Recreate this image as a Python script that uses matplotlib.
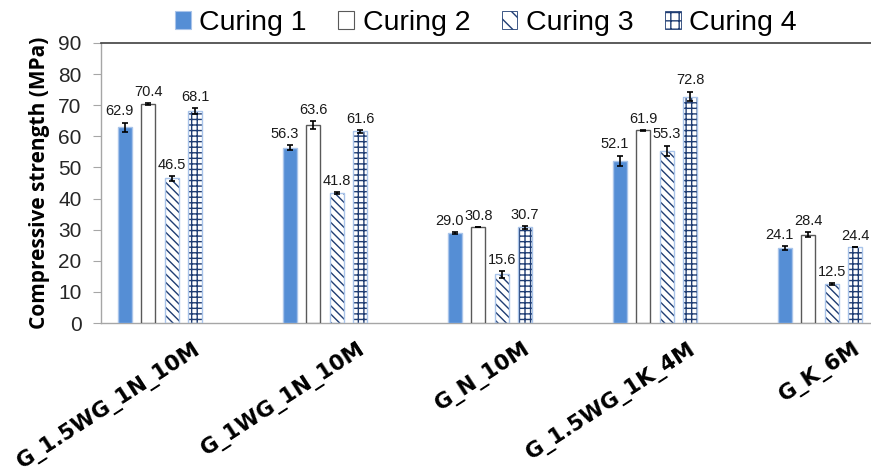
import matplotlib
matplotlib.use("Agg")
import matplotlib.pyplot as plt
from matplotlib.transforms import ScaledTranslation
import numpy as np

categories = ["G_1.5WG_1N_10M", "G_1WG_1N_10M", "G_N_10M", "G_1.5WG_1K_4M", "G_K_6M"]
series_names = ["Curing 1", "Curing 2", "Curing 3", "Curing 4"]
curing1 = [62.9, 56.3, 29.0, 52.1, 24.1]
curing2 = [70.4, 63.6, 30.8, 61.9, 28.4]
curing3 = [46.5, 41.8, 15.6, 55.3, 12.5]
curing4 = [68.1, 61.6, 30.7, 72.8, 24.4]
err1 = [1.5, 0.8, 0.3, 1.7, 0.7]
err2 = [0.3, 1.3, 0.1, 0.1, 0.7]
err3 = [0.8, 0.3, 1.2, 1.7, 0.4]
err4 = [1.0, 0.4, 0.4, 1.6, 0.1]
yticks = [0, 10, 20, 30, 40, 50, 60, 70, 80, 90]

values = [curing1, curing2, curing3, curing4]
errors = [err1, err2, err3, err4]

plt.rcParams["hatch.linewidth"] = 1.0

fig = plt.figure(figsize=(8.71, 4.73), dpi=100)
ax = fig.add_axes([101 / 871, 150 / 473, 770 / 871, 280 / 473])

x = np.arange(len(categories))
offsets = [-0.212, -0.071, 0.071, 0.212]
width = 0.085
label_nudge = [-4, 0, 0, 0]  # points; first-series labels sit slightly left

blue = "#558ed5"
navy = "#1f3d73"
light_edge = "#a9c4ea"

styles = [
    dict(color=blue, edgecolor=light_edge, hatch=None),
    dict(color="white", edgecolor="#595959", hatch=None),
    dict(color="white", edgecolor=light_edge, hatch="\\\\\\\\"),
    dict(color="white", edgecolor=light_edge, hatch="+++"),
]

handles = []
for vals, errs, off, st, nudge in zip(values, errors, offsets, styles, label_nudge):
    pos = x + off
    if st["hatch"]:
        ax.bar(pos, vals, width, color=st["color"], edgecolor=navy,
               hatch=st["hatch"], linewidth=0, zorder=2)
        ax.bar(pos, vals, width, color="none", edgecolor=st["edgecolor"],
               linewidth=1.0, zorder=3)
        h = plt.Rectangle((0, 0), 1, 1, facecolor="white", edgecolor=navy,
                          hatch=st["hatch"][:2], linewidth=0.6)
    else:
        ax.bar(pos, vals, width, color=st["color"], edgecolor=st["edgecolor"],
               linewidth=1.0, zorder=3)
        h = plt.Rectangle((0, 0), 1, 1, facecolor=st["color"],
                          edgecolor=st["edgecolor"], linewidth=0.8)
    handles.append(h)
    ax.errorbar(pos, vals, yerr=errs, fmt="none", ecolor="black",
                elinewidth=1.2, capsize=2.5, capthick=1.2, zorder=4)
    for px, v, e in zip(pos, vals, errs):
        ax.annotate(f"{v:.1f}", (px, v + e), xytext=(nudge, 3), textcoords="offset points",
                    ha="center", va="bottom", fontsize=10.5, family="Liberation Sans",
                    color="#1a1a1a", zorder=5)

ax.set_xlim(-0.358, 4.309)
ax.set_ylim(0, 90)
ax.set_yticks(yticks)
ax.set_yticklabels([str(t) for t in yticks], fontsize=15, family="Liberation Sans",
                   color="#262626")
ax.tick_params(axis="y", direction="out", length=6, width=0.8, color="#a6a6a6", pad=8)

ax.set_xticks(x)
ax.set_xticklabels(categories, rotation=33, ha="right", rotation_mode="anchor",
                   fontsize=15.5, fontweight="bold", family="DejaVu Sans")
ax.tick_params(axis="x", length=0, pad=11)
shift = ScaledTranslation(0.33, 0, fig.dpi_scale_trans)
for lab in ax.get_xticklabels():
    lab.set_transform(lab.get_transform() + shift)

for side in ["left", "bottom"]:
    ax.spines[side].set_color("#a6a6a6")
    ax.spines[side].set_linewidth(1.0)
ax.spines["right"].set_visible(False)
ax.spines["top"].set_color("#404040")
ax.spines["top"].set_linewidth(1.2)

ax.set_ylabel("Compressive strength (MPa)", fontsize=15, fontweight="bold",
              family="Open Sans", labelpad=6)

ax.legend(handles, series_names, loc="lower center", bbox_to_anchor=(0.5, 1.0),
          ncol=4, frameon=False, prop={"family": "Liberation Sans", "size": 20.5},
          handlelength=0.56, handleheight=0.6, handletextpad=0.3,
          columnspacing=1.1, borderpad=0.1, borderaxespad=0.15)

fig.savefig("out.png", dpi=100)
